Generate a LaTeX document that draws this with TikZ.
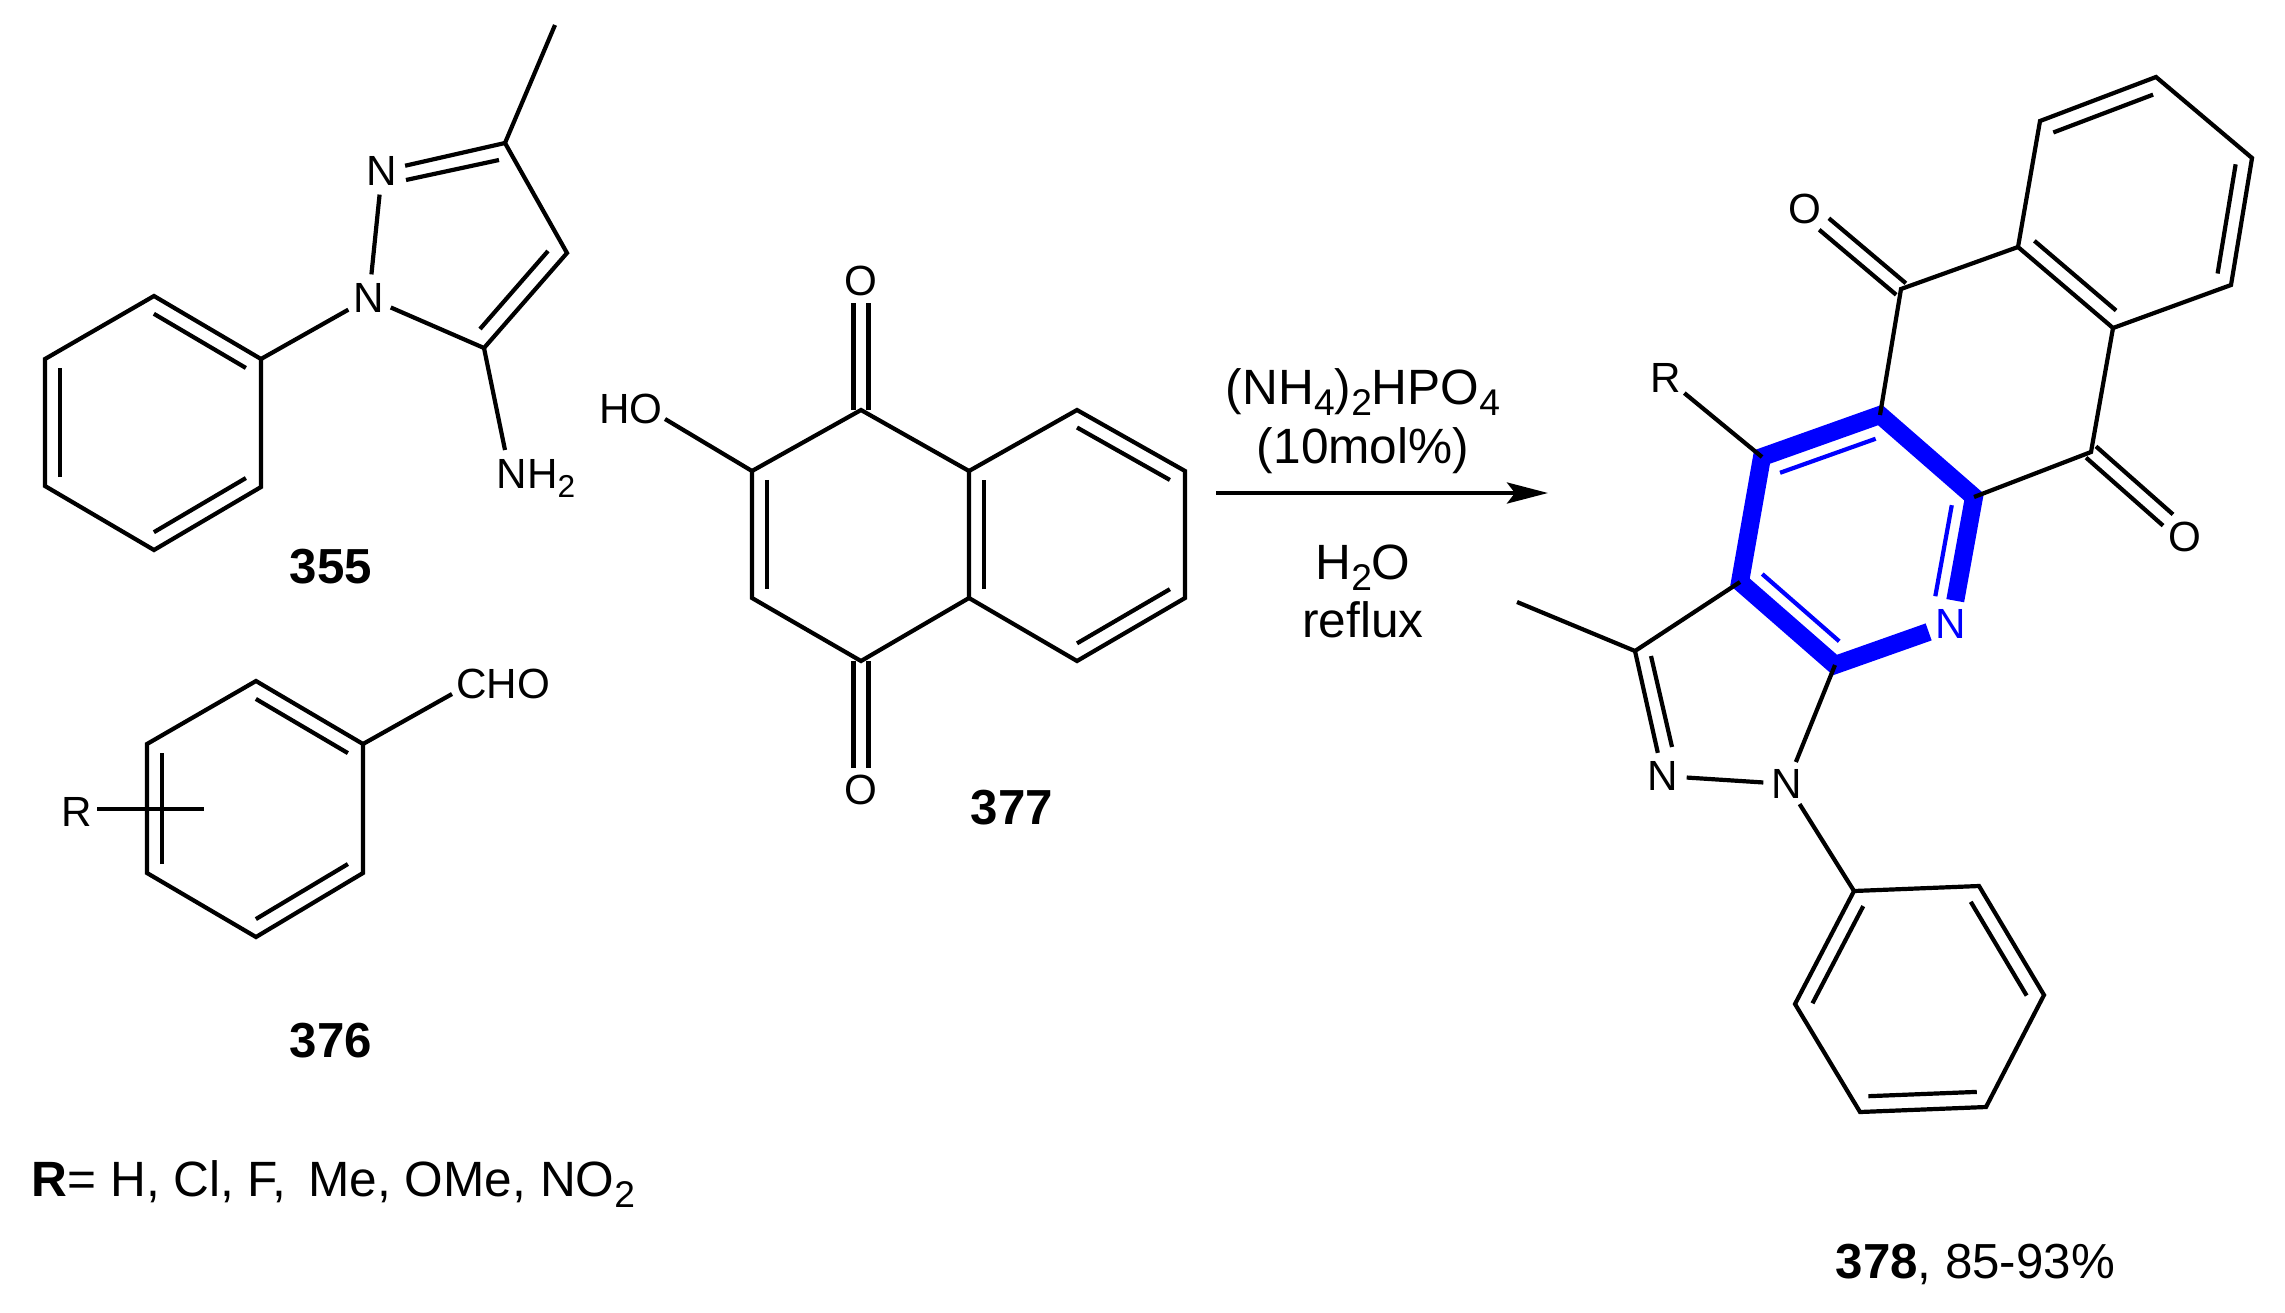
\documentclass[tikz,border=0pt]{standalone}
\usepackage{fontspec}
\setmainfont{Liberation Sans}
\usetikzlibrary{calc,arrows.meta}
\definecolor{chemblue}{RGB}{0,0,255}
\newcommand\chemsub[1]{\raisebox{-.235em}{\scalebox{.75}{#1}}}
\newcommand\atomfont{\fontsize{12}{14}\selectfont}
\newcommand\condfont{\fontsize{14.1}{16}\selectfont}
\newcommand\numfont{\fontsize{14}{16}\selectfont}
\tikzset{bond/.style={line width=.042cm},
	atom/.style={circle,inner sep=0pt,minimum size=.46cm,font=\atomfont},
	label text/.style={inner sep=0pt,font=\atomfont},
	cond text/.style={inner sep=0pt,anchor=base,font=\condfont},
	num text/.style={inner sep=0pt,anchor=base,font=\numfont}}
\begin{document}
\begin{tikzpicture}[x=.01cm,y=-.01cm,line cap=butt,line join=miter,>={Stealth[length=.41cm,width=.21cm,inset=.08cm]}]
	\useasboundingbox (0,0) rectangle (2285,1312);
	\def\shrink{.14}
	\def\inbond(#1,#2,#3){\draw[bond] ($(#1)!\shrink!(#3)$)--($(#2)!\shrink!(#3)$);}
	\def\twobond(#1,#2){\draw[bond] ($(#1)!.075cm!90:(#2)$)--($(#2)!.075cm!-90:(#1)$);
		\draw[bond] ($(#1)!.075cm!-90:(#2)$)--($(#2)!.075cm!90:(#1)$);}
	\foreach \n/\x/\y in {a1/154/296,a2/261/359,a3/261/487,a4/154/550,a5/45/486,a6/45/359,acen/153/423,
		a7/505/143,a8/555/25,a9/567/253,a10/484/348,a11/505/450,a12/406/180,a13/499/160,a14/548/251,a15/480/329}
		\coordinate (\n) at (\x,\y);
	\node[atom] (an1) at (369,298) {N};
	\node[atom] (an2) at (382,171) {N};
	\node[label text,anchor=base west] (anh) at (496,488) {NH\chemsub{2}};
	\node[num text] (n355) at (331,583) {\textbf{355}};
	\draw[bond] (a1)--(a2)--(a3)--(a4)--(a5)--(a6)--cycle;
	\inbond(a1,a2,acen) \inbond(a3,a4,acen) \inbond(a5,a6,acen)
	\draw[bond] (a2)--(an1);
	\draw[bond] (an1)--(an2);
	\draw[bond] (an1)--(a10)--(a9)--(a7)--(an2);
	\draw[bond] (a12)--(a13);
	\draw[bond] (a14)--(a15);
	\draw[bond] (a7)--(a8);
	\draw[bond] (a10)--(a11);

	\foreach \n/\x/\y in {b1/256/681,b2/363/744,b3/363/873,b4/256/937,b5/147/873,b6/147/744,bcen/255/809,
		b7/452/694,b8/97/809,b9/204/809}
		\coordinate (\n) at (\x,\y);
	\node[label text] (bcho) at (503,684) {CHO};
	\node[label text] (br) at (77,812) {R};
	\node[num text] (n376) at (331,1057) {\textbf{376}};
	\draw[bond] (b1)--(b2)--(b3)--(b4)--(b5)--(b6)--cycle;
	\inbond(b1,b2,bcen) \inbond(b3,b4,bcen) \inbond(b5,b6,bcen)
	\draw[bond] (b2)--(b7);
	\draw[bond] (b8)--(b9);
	\node[num text,anchor=base west,font=\condfont] (rlist) at (31,1196) {\textbf{R}= H, Cl, F, \,Me, OMe, NO\chemsub{2}};

	\foreach \n/\x/\y in {c1/861/410,c2/752/471,c3/752/598,c4/861/661,c5/969/598,c6/969/471,
		c7/1077/410,c8/1185/471,c9/1185/598,c10/1077/661,ccen/860/535,dcen/1077/535,
		c11/861/303,c12/861/768,c13/665/419}
		\coordinate (\n) at (\x,\y);
	\node[label text] (cho) at (631,409) {HO};
	\node[atom] (co1) at (861,281) {O};
	\node[atom] (co2) at (861,790) {O};
	\node[num text] (n377) at (1012,824) {\textbf{377}};
	\draw[bond] (c1)--(c2)--(c3)--(c4)--(c5)--(c6)--cycle;
	\draw[bond] (c6)--(c7)--(c8)--(c9)--(c10)--(c5);
	\inbond(c2,c3,ccen) \inbond(c5,c6,dcen) \inbond(c7,c8,dcen) \inbond(c9,c10,dcen)
	\twobond(c1,c11)
	\twobond(c4,c12)
	\draw[bond] (c13)--(c2);

	\coordinate (ar1) at (1216,493);
	\coordinate (ar2) at (1548,493);
	\draw[bond,->] (ar1)--(ar2);
	\node[cond text] (t1) at (1363,404) {(NH\chemsub{4})\chemsub{2}HPO\chemsub{4}};
	\node[cond text] (t2) at (1363,463) {(10mol\%)};
	\node[cond text] (t3) at (1363,579) {H\chemsub{2}O};
	\node[cond text] (t4) at (1363,637) {reflux};

	\foreach \n/\x/\y in {d1/2040/121,d2/2156/77,d3/2252/158,d4/2231/285,d5/2113/328,d6/2018/247,ecen/2135/203,
		d7/1901/289,d8/1880/415,d9/1974/497,d10/2091/452,d11/1762/457,d12/1740/582,d13/1835/665,fcen/1857/540,
		d14/1824/224,d15/2168/520,d16/1635/651,d17/1517/602,d18/1651/656,d19/1672/747,
		e1/1854/891,e2/1979/886,e3/2044/995,e4/1986/1107,e5/1860/1112,e6/1795/1004,gcen/1920/999}
		\coordinate (\n) at (\x,\y);
	\node[atom,text=chemblue] (dnb) at (1951,624) {N};
	\node[atom] (dn1) at (1663,776) {N};
	\node[atom] (dn2) at (1787,784) {N};
	\node[atom] (do1) at (1805,209) {O};
	\node[atom] (do2) at (2185,537) {O};
	\node[atom] (dr) at (1666,378) {R};
	\node[num text,anchor=base west] (n378) at (1835,1278) {\textbf{378}, 85-93\%};
	\draw[line width=.18cm,color=chemblue] (dnb)--(d9)--(d8)--(d11)--(d12)--(d13)--(dnb);
	\begin{scope}[color=chemblue]
		\def\shrink{.19}
		\inbond(d11,d8,fcen) \inbond(d12,d13,fcen)
		\draw[bond,shorten >=.12cm] ($(d9)!\shrink!(fcen)$)--($(dnb)!\shrink!(fcen)$);
	\end{scope}
	\draw[bond] (d1)--(d2)--(d3)--(d4)--(d5)--(d6)--cycle;
	\inbond(d1,d2,ecen) \inbond(d3,d4,ecen) \inbond(d5,d6,ecen)
	\draw[bond] (d6)--(d7)--(d8);
	\draw[bond] (d9)--(d10)--(d5);
	\twobond(d7,d14)
	\twobond(d10,d15)
	\draw[bond] (dr)--(d11);
	\draw[bond] (d12)--(d16)--(dn1);
	\draw[bond] (d18)--(d19);
	\draw[bond] (d16)--(d17);
	\draw[bond] (dn1)--(dn2);
	\draw[bond] (dn2)--(d13);
	\draw[bond] (dn2)--(e1);
	\draw[bond] (e1)--(e2)--(e3)--(e4)--(e5)--(e6)--cycle;
	\inbond(e1,e6,gcen) \inbond(e2,e3,gcen) \inbond(e4,e5,gcen)
\end{tikzpicture}
\end{document}
